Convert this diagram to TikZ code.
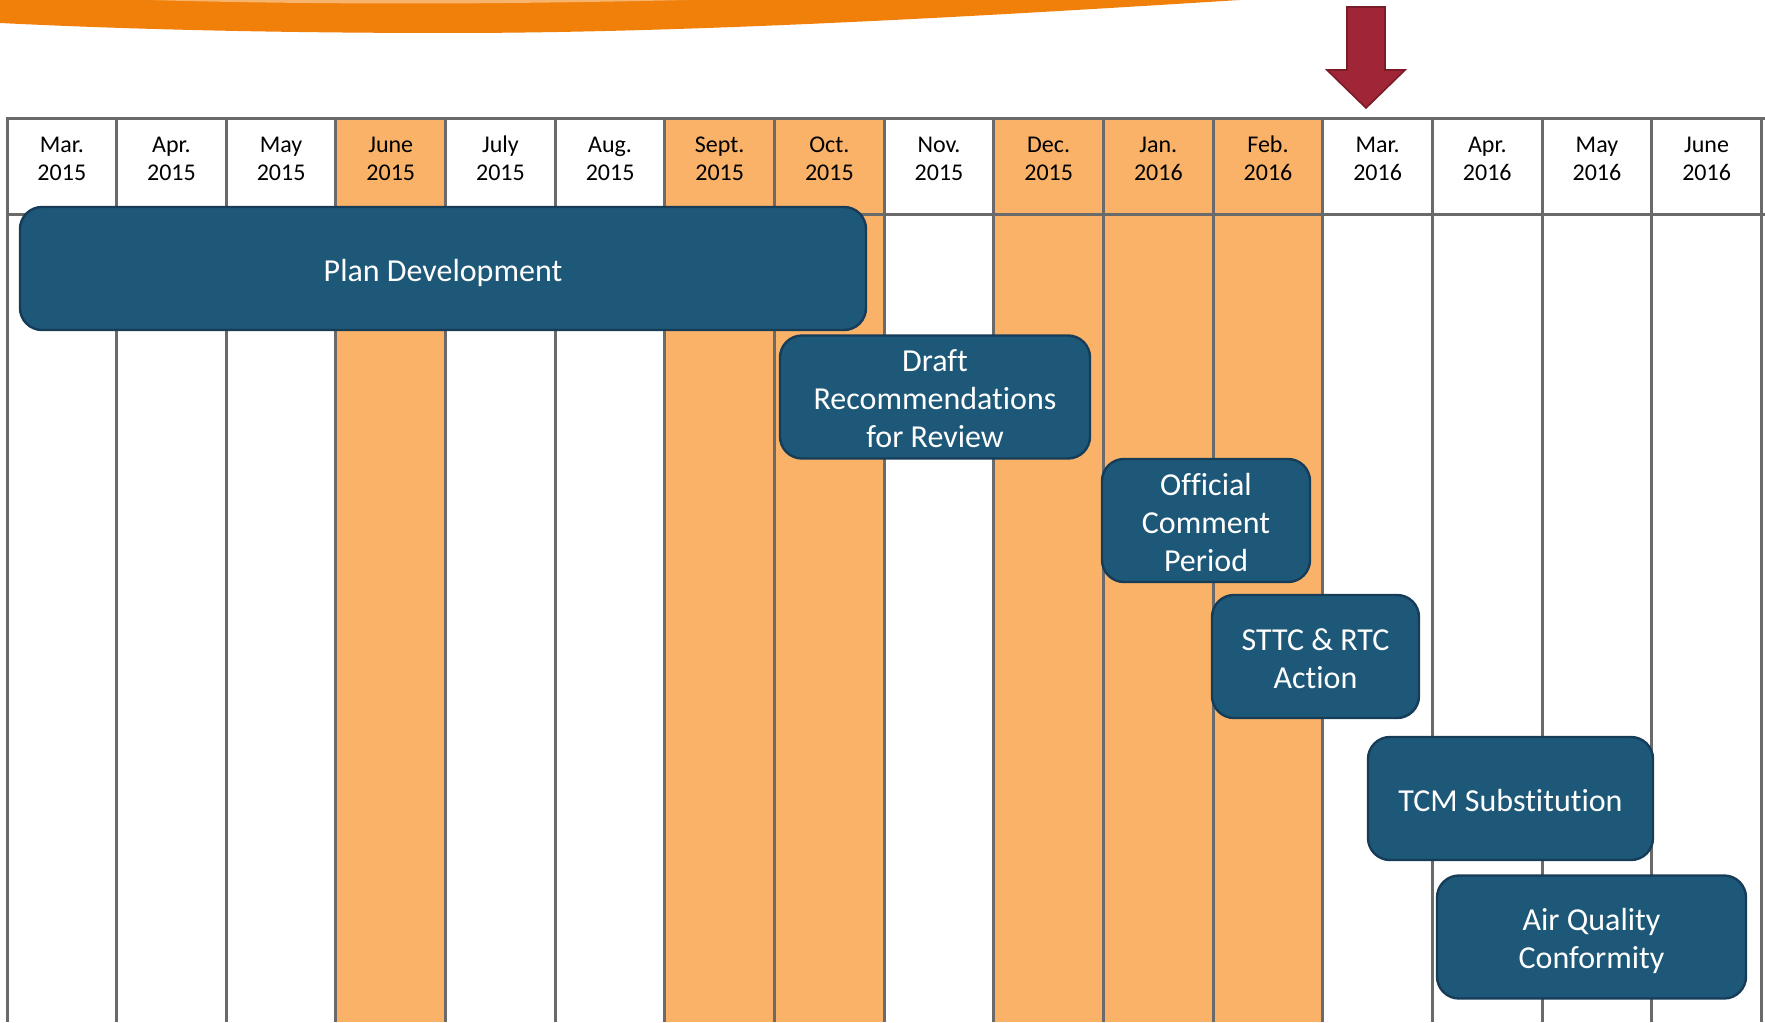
\documentclass[tikz,border=0pt]{standalone}
\usepackage{fontspec}
\setmainfont{Carlito}[RawFeature={-liga;-clig;-dlig;-calt;-ccmp;-rlig}]
\newcommand{\nl}{\kern0pt\relax}
\definecolor{colorange}{HTML}{F9B268}
\definecolor{swoosh}{HTML}{F0800A}
\definecolor{swooshlight}{HTML}{F7B46C}
\definecolor{gridgray}{HTML}{6A6A6A}
\definecolor{boxfill}{HTML}{1E5879}
\definecolor{boxline}{HTML}{163C58}
\definecolor{arrowred}{HTML}{A02637}
\definecolor{arrowdark}{HTML}{7A1B28}
\begin{document}
\begin{tikzpicture}[x=0.5pt,y=-0.5pt,
  gridline/.style={draw=gridgray,line width=1.5pt},
  hdr/.style={align=center,font=\fontsize{12}{14}\selectfont,inner sep=0pt,text=black},
  tasktext/.style={text=white,font=\fontsize{16}{19}\selectfont,align=center,inner sep=0pt,yshift=-2.5pt},
  taskbox/.style={draw=boxline,fill=boxfill,line width=1.2pt,rounded corners=11pt,
    inner sep=0pt,minimum height=61.5pt}]
\useasboundingbox (0,0) rectangle (1765,1022);
% swoosh
\fill[swoosh] (0,0) -- (1240,0) .. controls (1000,15) and (700,33) .. (450,33)
  .. controls (250,33) and (100,28) .. (0,23) -- cycle;
\fill[swooshlight] (149,0) .. controls (250,3) and (350,3.5) .. (415,3.5)
  .. controls (500,3.5) and (600,2) .. (688,0) -- cycle;
% orange columns
\foreach \i in {3,6,7,9,10,11}
  \fill[colorange] ({7+\i*109.65},119) rectangle ({7+(\i+1)*109.65},1022);
% grid
\foreach \i in {0,...,16}
  \draw[gridline] ({7+\i*109.65},119) -- ({7+\i*109.65},1022);
\draw[gridline] (6,119) -- (1765,119);
\draw[gridline] (6,214) -- (1765,214);
% header labels
\foreach \mo/\yr [count=\i from 0] in {Mar./2015,Apr./2015,May/2015,June/2015,July/2015,Aug./2015,Sept./2015,Oct./2015,Nov./2015,Dec./2015,Jan./2016,Feb./2016,Mar./2016,Apr./2016,May/2016,June/2016}
  \node[hdr] (h\i) at ({7+(\i+0.5)*109.65},161) {\strut\mo\\\strut\yr};
% arrow
\filldraw[fill=arrowred,draw=arrowdark,line width=0.8pt,line join=miter]
  (1347,7) -- (1385,7) -- (1385,70) -- (1405,70) -- (1366,108) -- (1327,70) -- (1347,70) -- cycle;
% tasks
\node[taskbox,minimum width=423pt,label={[tasktext]center:{\strut Plan Development}}] (plan) at (443,268.5) {};
\node[taskbox,minimum width=155pt,label={[tasktext]center:{\strut Draft\\\strut Recommendations\\\strut for Review}}] (draft) at (935,397) {};
\node[taskbox,minimum width=104pt,label={[tasktext]center:{\strut Of\nl f\nl icial\\\strut Comment\\\strut Period}}] (official) at (1206,520.5) {};
\node[taskbox,minimum width=103.5pt,label={[tasktext]center:{\strut STTC \& RTC\\\strut Action}}] (sttc) at (1315.5,656.5) {};
\node[taskbox,minimum width=142.5pt,label={[tasktext]center:{\strut TCM Subst\nl itut\nl ion}}] (tcm) at (1510.5,798.5) {};
\node[taskbox,minimum width=154.5pt,label={[tasktext]center:{\strut Air Quality\\\strut Conformity}}] (air) at (1591.5,937) {};
\end{tikzpicture}
\end{document}
